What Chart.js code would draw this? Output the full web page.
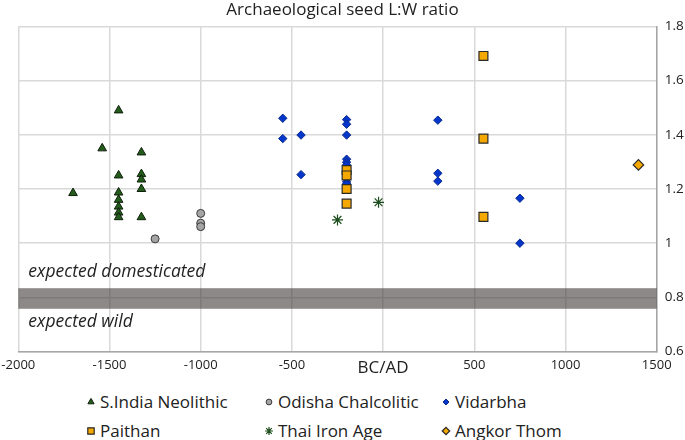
<!DOCTYPE html>
<html lang="en">
<head>
    <meta charset="UTF-8">
    <title>Archaeological seed L:W ratio</title>
    <script src="https://cdn.jsdelivr.net/npm/chart.js"></script>
    <style>
        body {
            margin: 0;
            padding: 0;
            background: #ffffff;
            font-family: "Open Sans", Arial, sans-serif;
        }
        .wrap {
            position: relative;
            width: 685px;
            height: 440px;
            overflow: hidden;
        }
        .chart-box {
            position: absolute;
            left: 0;
            top: 0;
            width: 685px;
            height: 386px;
        }
        .legend-item {
            position: absolute;
            font-size: 17px;
            color: #222;
            white-space: nowrap;
            line-height: 22px;
        }
        .legend-item canvas {
            position: absolute;
            left: -16px;
            top: 4px;
        }
    </style>
</head>
<body>
    <div class="wrap">
        <div class="chart-box">
            <canvas id="seedChart"></canvas>
        </div>
        <div id="legend"></div>
    </div>

    <script>
        // values: year (BC negative) and L:W ratio
        const neolithicYear = [-1450, -1540, -1325, -1450, -1325, -1325, -1325, -1700, -1450, -1450, -1450, -1450, -1450, -1325];
        const neolithicRatio = [1.49, 1.35, 1.335, 1.25, 1.255, 1.235, 1.20, 1.185, 1.187, 1.16, 1.135, 1.113, 1.096, 1.096];

        const odishaYear = [-1000, -1000, -1000, -1250];
        const odishaRatio = [1.11, 1.074, 1.061, 1.016];

        const vidarbhaYear = [-550, -550, -450, -450, -200, -200, -200, -200, -200, -200, -200, -200, 300, 300, 300, 750, 750];
        const vidarbhaRatio = [1.461, 1.386, 1.399, 1.253, 1.456, 1.439, 1.399, 1.31, 1.299, 1.289, 1.226, 1.219, 1.454, 1.258, 1.229, 1.166, 1.0];

        const paithanYear = [-200, -200, -200, -200, 550, 550, 550];
        const paithanRatio = [1.27, 1.25, 1.20, 1.146, 1.691, 1.386, 1.097];

        const thaiYear = [-250, -25];
        const thaiRatio = [1.086, 1.151];

        const angkorYear = [1400];
        const angkorRatio = [1.289];

        const seriesNames = ['S.India Neolithic', 'Odisha Chalcolitic', 'Vidarbha', 'Paithan', 'Thai Iron Age', 'Angkor Thom'];

        // threshold band between wild and domesticated
        const bandLow = 0.758;
        const bandHigh = 0.834;

        const xTicks = [-2000, -1500, -1000, -500, 0, 500, 1000, 1500];
        const yTicks = [0.6, 0.8, 1.0, 1.2, 1.4, 1.6, 1.8];

        function toPoints(xs, ys) {
            return xs.map((x, i) => ({ x: x, y: ys[i] }));
        }

        const styles = [
            { pointStyle: 'triangle', radius: 5, bg: '#245c1c', border: '#0e1f0a', width: 1 },
            { pointStyle: 'circle', radius: 4, bg: '#a5a5a5', border: '#3a3a3a', width: 1 },
            { pointStyle: 'rectRot', radius: 4.2, bg: '#0536cc', border: '#0b2a8a', width: 1 },
            { pointStyle: 'rect', radius: 6.3, bg: '#f5a800', border: '#2a2a2a', width: 1.2 },
            { pointStyle: 'star', radius: 5.5, bg: '#1c4d1c', border: '#1c4d1c', width: 1.2 },
            { pointStyle: 'rectRot', radius: 5.2, bg: '#f5a800', border: '#2a2a2a', width: 1.2 }
        ];

        const allData = [
            toPoints(neolithicYear, neolithicRatio),
            toPoints(odishaYear, odishaRatio),
            toPoints(vidarbhaYear, vidarbhaRatio),
            toPoints(paithanYear, paithanRatio),
            toPoints(thaiYear, thaiRatio),
            toPoints(angkorYear, angkorRatio)
        ];

        const datasets = allData.map((pts, i) => ({
            label: seriesNames[i],
            data: pts,
            pointStyle: styles[i].pointStyle,
            pointRadius: styles[i].radius,
            pointHoverRadius: styles[i].radius,
            pointBackgroundColor: styles[i].bg,
            pointBorderColor: styles[i].border,
            pointBorderWidth: styles[i].width,
            showLine: false,
            order: 6 - i // later series drawn on top, like the spreadsheet
        }));

        const bandPlugin = {
            id: 'band',
            beforeDatasetsDraw(chart) {
                const { ctx, chartArea, scales } = chart;
                const yTop = scales.y.getPixelForValue(bandHigh);
                const yBot = scales.y.getPixelForValue(bandLow);
                ctx.save();
                ctx.fillStyle = 'rgba(66, 58, 58, 0.6)';
                ctx.fillRect(chartArea.left, yTop, chartArea.right - chartArea.left, yBot - yTop);

                ctx.fillStyle = '#222';
                ctx.font = 'italic 17.5px "Open Sans", Arial, sans-serif';
                ctx.textBaseline = 'middle';
                ctx.fillText('expected domesticated', chartArea.left + 10, scales.y.getPixelForValue(0.893));
                ctx.fillText('expected wild', chartArea.left + 10, scales.y.getPixelForValue(0.71));
                ctx.restore();
            }
        };

        const ctx = document.getElementById('seedChart').getContext('2d');
        const chart = new Chart(ctx, {
            type: 'scatter',
            data: { datasets: datasets },
            options: {
                responsive: true,
                maintainAspectRatio: false,
                animation: false,
                layout: {
                    padding: { left: 0, right: 0, top: 0, bottom: 2 }
                },
                plugins: {
                    legend: { display: false },
                    tooltip: { enabled: false },
                    title: {
                        display: true,
                        text: 'Archaeological seed L:W ratio',
                        color: '#222',
                        font: { family: '"Open Sans", Arial, sans-serif', size: 17, weight: 'normal' },
                        padding: { top: 0, bottom: 6 }
                    }
                },
                scales: {
                    x: {
                        type: 'linear',
                        min: -2000,
                        max: 1500,
                        afterBuildTicks: axis => { axis.ticks = xTicks.map(v => ({ value: v })); },
                        afterFit: axis => { axis.paddingLeft = 18.3; },
                        grid: { color: '#d9d9d9', lineWidth: 1.5, drawTicks: false },
                        border: { color: '#a6a6a6', width: 1.5 },
                        ticks: {
                            padding: 6,
                            color: '#222',
                            maxRotation: 0,
                            font: c => ({
                                family: '"Open Sans", Arial, sans-serif',
                                size: c.tick && c.tick.value === 0 ? 17 : 13
                            }),
                            callback: v => v === 0 ? 'BC/AD' : String(v)
                        }
                    },
                    y: {
                        position: 'right',
                        min: 0.6,
                        max: 1.8,
                        afterBuildTicks: axis => { axis.ticks = yTicks.map(v => ({ value: v })); },
                        afterFit: axis => { axis.width = 28.3; },
                        grid: { color: '#d9d9d9', lineWidth: 1.5, drawTicks: false },
                        border: { color: '#a6a6a6', width: 1.5 },
                        ticks: {
                            padding: 8,
                            color: '#222',
                            font: { family: '"Open Sans", Arial, sans-serif', size: 13.5 },
                            callback: v => String(Number(v.toFixed(1)))
                        }
                    }
                }
            },
            plugins: [bandPlugin]
        });

        // legend below the chart, three columns and two rows
        const legendCols = [100, 278, 455];
        const legendRows = [391, 420];
        const legend = document.getElementById('legend');
        seriesNames.forEach((name, i) => {
            const item = document.createElement('div');
            item.className = 'legend-item';
            item.style.left = legendCols[i % 3] + 'px';
            item.style.top = legendRows[Math.floor(i / 3)] + 'px';
            const mark = document.createElement('canvas');
            mark.width = 14;
            mark.height = 14;
            item.appendChild(mark);
            item.appendChild(document.createTextNode(name));
            legend.appendChild(item);

            const mctx = mark.getContext('2d');
            mctx.fillStyle = styles[i].bg;
            mctx.strokeStyle = styles[i].border;
            mctx.lineWidth = styles[i].width;
            Chart.helpers.drawPoint(mctx, {
                pointStyle: styles[i].pointStyle,
                radius: styles[i].radius * 0.72,
                borderWidth: styles[i].width,
                rotation: 0
            }, 7, 7);
        });
    </script>
</body>
</html>
